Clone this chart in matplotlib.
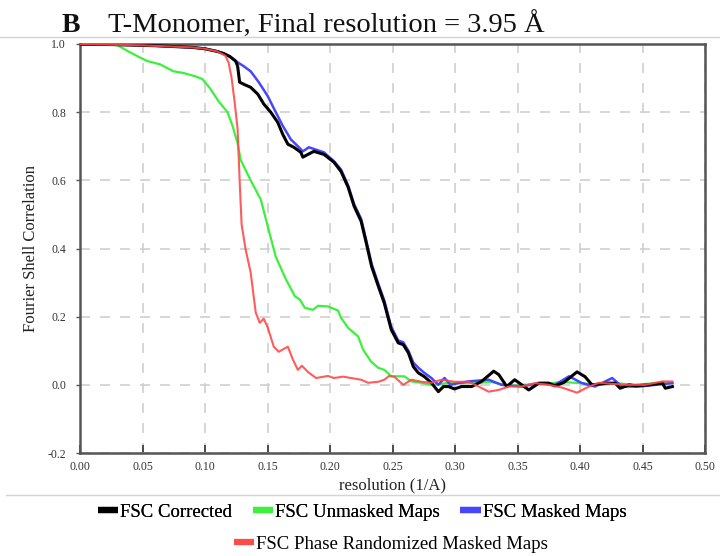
import matplotlib
matplotlib.use("Agg")
import matplotlib.pyplot as plt
from matplotlib.lines import Line2D

# ---------------- data ----------------
corr_x = [0.0, 0.03, 0.06, 0.09, 0.10, 0.11, 0.115, 0.12, 0.1245, 0.1261, 0.1277, 0.1309,
          0.1365, 0.1422, 0.147, 0.1526, 0.1582, 0.1622, 0.1663, 0.1711, 0.1767, 0.1783,
          0.1823, 0.1871, 0.1952, 0.2032, 0.2088, 0.2145, 0.2193, 0.2249, 0.2289, 0.2333,
          0.2386, 0.2434, 0.249, 0.2546, 0.2586, 0.2627, 0.2667, 0.2707, 0.2755, 0.2811,
          0.2867, 0.2908, 0.2948, 0.2996, 0.3052, 0.3133, 0.3213, 0.3309, 0.335, 0.3414,
          0.3478, 0.359, 0.3671, 0.3751, 0.3799, 0.3871, 0.3976, 0.404, 0.4096, 0.4233,
          0.4281, 0.4321, 0.4394, 0.4442, 0.4554, 0.4659, 0.4683, 0.4739]
corr_y = [1.0, 0.998, 0.995, 0.99, 0.986, 0.978, 0.972, 0.963, 0.95, 0.935, 0.888, 0.882,
          0.873, 0.853, 0.824, 0.80, 0.77, 0.735, 0.706, 0.697, 0.682, 0.668,
          0.676, 0.685, 0.676, 0.653, 0.626, 0.58, 0.524, 0.48, 0.418, 0.347,
          0.29, 0.24, 0.162, 0.123, 0.118, 0.094, 0.053, 0.035, 0.024, 0.006,
          -0.02, -0.005, -0.005, -0.012, -0.005, -0.005, 0.01, 0.04, 0.03, -0.005,
          0.015, -0.015, 0.005, 0.005, -0.003, 0.007, 0.038, 0.024, 0.0, 0.005,
          0.005, -0.01, 0.0, -0.003, 0.0, 0.005, -0.01, -0.005]

unmasked_x = [0.0, 0.02, 0.0297, 0.0378, 0.0482, 0.0538, 0.0643, 0.0747, 0.0827, 0.0924,
              0.098, 0.1044, 0.1108, 0.118, 0.122, 0.126, 0.1285, 0.1365, 0.1446, 0.1502,
              0.1566, 0.1647, 0.1719, 0.1759, 0.1799, 0.1863, 0.1904, 0.1984, 0.2064,
              0.2088, 0.2145, 0.2225, 0.2265, 0.2329, 0.2386, 0.2434, 0.249, 0.2554,
              0.2594, 0.2651, 0.2731, 0.2811, 0.2948, 0.3108, 0.3293, 0.343, 0.3534,
              0.3695, 0.3855, 0.4016, 0.412, 0.4281, 0.4442, 0.4602, 0.4739]
unmasked_y = [1.0, 1.0, 0.997, 0.98, 0.96, 0.95, 0.94, 0.92, 0.915, 0.905,
              0.897, 0.868, 0.832, 0.80, 0.76, 0.71, 0.66, 0.60, 0.544, 0.465,
              0.376, 0.31, 0.26, 0.25, 0.226, 0.22, 0.232, 0.23, 0.218,
              0.197, 0.167, 0.142, 0.103, 0.068, 0.05, 0.044, 0.025, 0.025,
              0.025, 0.01, 0.006, 0.0, 0.005, 0.005, 0.008, -0.003, 0.0,
              0.002, 0.008, 0.005, 0.0, 0.005, 0.0, 0.005, 0.005]

masked_x = [0.0, 0.03, 0.06, 0.09, 0.10, 0.11, 0.115, 0.12, 0.1245, 0.1309, 0.1365, 0.143,
            0.1502, 0.1566, 0.1622, 0.1687, 0.1751, 0.1783, 0.1831, 0.1888, 0.1952, 0.2032,
            0.2088, 0.2145, 0.2193, 0.2249, 0.2289, 0.2333, 0.2386, 0.2434, 0.249, 0.2546,
            0.2586, 0.2627, 0.2667, 0.2707, 0.2755, 0.2811, 0.2867, 0.2916, 0.2964, 0.3028,
            0.3109, 0.3269, 0.3373, 0.3534, 0.3671, 0.3799, 0.3912, 0.4016, 0.412, 0.4257,
            0.4337, 0.4474, 0.4602, 0.4739]
masked_y = [1.0, 0.998, 0.995, 0.99, 0.986, 0.978, 0.972, 0.963, 0.95, 0.935, 0.92, 0.888,
            0.847, 0.80, 0.76, 0.72, 0.697, 0.685, 0.697, 0.69, 0.682, 0.656,
            0.632, 0.585, 0.53, 0.487, 0.425, 0.355, 0.297, 0.248, 0.17, 0.13,
            0.125, 0.10, 0.065, 0.05, 0.035, 0.02, 0.0, 0.02, 0.0, 0.005,
            0.01, 0.015, 0.0, -0.005, 0.005, 0.0, 0.025, 0.005, -0.005, 0.02,
            -0.005, -0.005, 0.0, 0.005]

phase_x = [0.0, 0.05, 0.09, 0.10, 0.11, 0.1165, 0.1189, 0.1213, 0.1237, 0.1261, 0.1277,
           0.1293, 0.1325, 0.1365, 0.1406, 0.1438, 0.147, 0.1502, 0.155, 0.159, 0.1663,
           0.1703, 0.1743, 0.1775, 0.1823, 0.1888, 0.1984, 0.2032, 0.2104, 0.2169, 0.2249,
           0.2305, 0.2386, 0.2434, 0.2474, 0.2514, 0.2586, 0.2651, 0.2731, 0.2811, 0.2892,
           0.2996, 0.3108, 0.3189, 0.3269, 0.335, 0.343, 0.3534, 0.3639, 0.3751, 0.3855,
           0.3976, 0.4072, 0.4153, 0.4257, 0.4361, 0.4522, 0.4659, 0.4739]
phase_y = [1.0, 0.996, 0.99, 0.986, 0.978, 0.965, 0.945, 0.90, 0.83, 0.75, 0.60,
           0.47, 0.397, 0.33, 0.212, 0.182, 0.194, 0.168, 0.112, 0.097, 0.112,
           0.074, 0.044, 0.056, 0.038, 0.02, 0.026, 0.02, 0.024, 0.02, 0.015,
           0.006, 0.009, 0.015, 0.026, 0.024, 0.0, 0.015, 0.009, 0.006, 0.015,
           0.009, 0.009, -0.005, -0.02, -0.015, -0.005, -0.005, 0.005, 0.0, -0.008,
           -0.023, -0.005, 0.006, 0.003, 0.0, 0.0, 0.01, 0.01]

series_labels = ["FSC Corrected", "FSC Unmasked Maps", "FSC Masked Maps",
                 "FSC Phase Randomized Masked Maps"]
x_ticks = [0.00, 0.05, 0.10, 0.15, 0.20, 0.25, 0.30, 0.35, 0.40, 0.45, 0.50]
y_ticks = [-0.2, 0.0, 0.2, 0.4, 0.6, 0.8, 1.0]

# ---------------- figure ----------------
SERIF = ["Liberation Serif", "DejaVu Serif"]
plt.rcParams["font.family"] = SERIF

fig = plt.figure(figsize=(7.2, 5.56), dpi=100)
ax = fig.add_axes([80 / 720, 1 - 453 / 556, 625 / 720, 409 / 556])

c_black = "#000000"
c_green = "#3cf03c"
c_blue = "#4646ff"
c_red = "#ff4a4a"

ax.plot(unmasked_x, unmasked_y, color=c_green, lw=1.6, zorder=3)
ax.plot(masked_x, masked_y, color=c_blue, lw=1.8, zorder=4)
ax.plot(corr_x, corr_y, color=c_black, lw=2.2, zorder=5)
ax.plot(phase_x, phase_y, color=c_red, lw=1.5, alpha=0.9, zorder=6)

ax.set_xlim(0, 0.5)
ax.set_ylim(-0.2, 1.0)
ax.set_xticks(x_ticks)
ax.set_xticklabels([f"{v:.2f}" for v in x_ticks])
ax.set_yticks(y_ticks)
ax.set_yticklabels([f"{v:.1f}" for v in y_ticks])
ax.tick_params(axis="x", direction="in", length=6, width=1.2, colors="#333333",
               labelsize=8.5, pad=6, labelcolor="#333333")
ax.tick_params(axis="y", direction="out", length=3, width=1.0, colors="#555555",
               labelsize=8.5, pad=7, labelcolor="#333333")
ax.grid(True, color="#cfcfcf", lw=1.2, linestyle=(0, (6, 6)))
ax.set_axisbelow(True)
for s in ax.spines.values():
    s.set_color("#555555")
    s.set_linewidth(1.8)

ax.set_xlabel("resolution (1/A)", fontsize=12, color="#222222", labelpad=3)
ax.set_ylabel("Fourier Shell Correlation", fontsize=12, color="#222222", labelpad=6)

# title
fig.text(62 / 720, 1 - 25 / 556, "B", fontsize=20, fontweight="bold", va="center",
         ha="left", color="#111111")
fig.text(108 / 720, 1 - 25 / 556, "T-Monomer, Final resolution = 3.95 Å", fontsize=20.5,
         va="center", ha="left", color="#111111")

# separator lines
fig.add_artist(Line2D([0.0, 1.0], [1 - 37 / 556, 1 - 37 / 556], color="#d4d4d4", lw=1.0,
                      transform=fig.transFigure))
fig.add_artist(Line2D([6 / 720, 1.0], [1 - 495 / 556, 1 - 495 / 556], color="#d4d4d4",
                      lw=1.0, transform=fig.transFigure))

# legends
handles = [Line2D([], [], color=c, lw=4.5, solid_capstyle="butt")
           for c in [c_black, c_green, c_blue, c_red]]
leg1 = fig.legend(handles[:3], series_labels[:3], loc="center",
                  bbox_to_anchor=(362 / 720, 1 - 512 / 556), ncol=3, frameon=False,
                  fontsize=13.5, handlelength=1.1, handletextpad=0.1, columnspacing=1.1)
leg2 = fig.legend(handles[3:], series_labels[3:], loc="center",
                  bbox_to_anchor=(391 / 720, 1 - 544 / 556), ncol=1, frameon=False,
                  fontsize=13.5, handlelength=1.1, handletextpad=0.1)
fig.add_artist(leg1)

fig.savefig("out.png", dpi=100)
